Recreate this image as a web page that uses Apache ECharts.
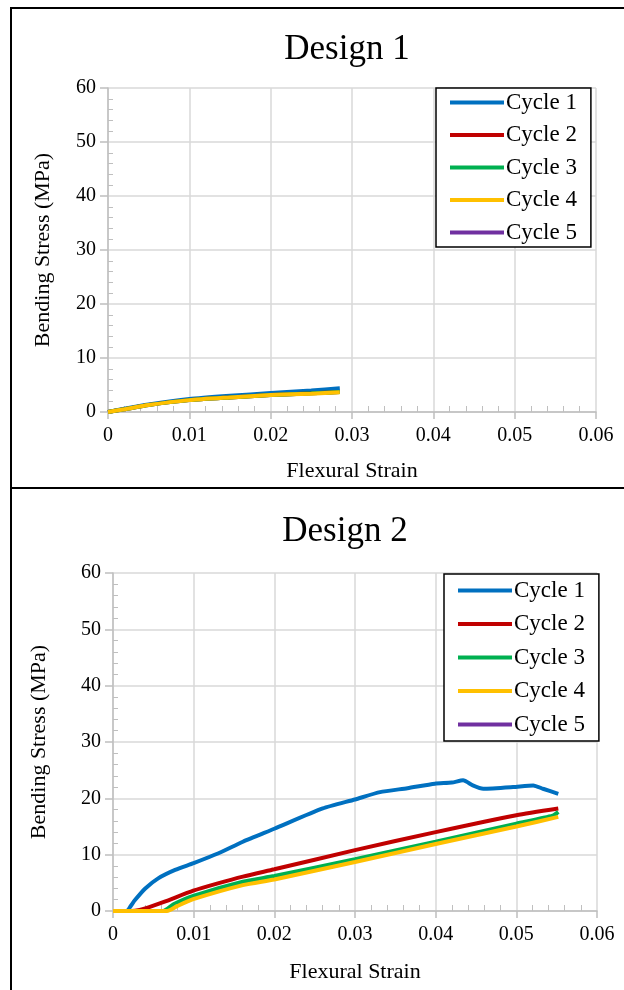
<!DOCTYPE html>
<html>
<head>
<meta charset="utf-8">
<script src="https://cdn.jsdelivr.net/npm/echarts@6/dist/echarts.min.js"></script>
<style>
  html, body { margin: 0; padding: 0; background: #fff; }
  #chart { width: 624px; height: 990px; }
</style>
</head>
<body>
<div id="chart"></div>
<script>
// cycles and colours
const cycleNames = ['Cycle 1', 'Cycle 2', 'Cycle 3', 'Cycle 4', 'Cycle 5']
const cycleColors = ['#0070C0', '#C00000', '#00B050', '#FFC000', '#7030A0']

// Design 1 : [strain, stress MPa]
const d1Cycle1 = [[0, 0], [0.002, 0.6], [0.005, 1.4], [0.01, 2.4], [0.015, 3.0], [0.02, 3.5], [0.025, 4.0], [0.0285, 4.4]]
const d1Cycle2 = [[0, 0], [0.002, 0.5], [0.005, 1.3], [0.01, 2.2], [0.015, 2.7], [0.02, 3.15], [0.025, 3.45], [0.0285, 3.7]]
const d1Cycle3 = [[0, 0], [0.002, 0.5], [0.005, 1.3], [0.01, 2.2], [0.015, 2.7], [0.02, 3.15], [0.025, 3.45], [0.0285, 3.7]]
const d1Cycle4 = [[0, 0], [0.002, 0.5], [0.005, 1.3], [0.01, 2.2], [0.015, 2.7], [0.02, 3.15], [0.025, 3.4], [0.0285, 3.65]]
const d1Cycle5 = []

// Design 2 : [strain, stress MPa]
const d2Cycle1 = [[0, 0], [0.0017, 0], [0.0022, 0.9], [0.0027, 1.9], [0.004, 4.0], [0.0056, 5.8], [0.0077, 7.3],
  [0.01, 8.5], [0.013, 10.2], [0.0161, 12.3], [0.02, 14.6], [0.026, 18.2], [0.03, 19.8], [0.0331, 21.1],
  [0.0365, 21.8], [0.0399, 22.6], [0.042, 22.8], [0.0434, 23.2], [0.0446, 22.3], [0.0459, 21.7], [0.0496, 22.0],
  [0.0521, 22.3], [0.0533, 21.7], [0.0552, 20.8]]
const d2Cycle2 = [[0, 0], [0.0023, 0], [0.0033, 0.2], [0.0044, 0.65], [0.0064, 1.65], [0.00995, 3.6], [0.013, 4.9],
  [0.0161, 6.1], [0.02, 7.4], [0.03, 10.8], [0.04, 14.0], [0.05, 17.0], [0.0552, 18.2]]
const d2Cycle3 = [[0, 0], [0.0062, 0], [0.0075, 1.2], [0.00995, 2.7], [0.0161, 5.2], [0.02, 6.2], [0.03, 9.2],
  [0.04, 12.3], [0.05, 15.5], [0.0545, 16.9], [0.0552, 17.6]]
const d2Cycle4 = [[0, 0], [0.0067, 0], [0.008, 0.9], [0.00995, 2.1], [0.0161, 4.6], [0.02, 5.6], [0.03, 8.7],
  [0.04, 11.9], [0.05, 15.0], [0.0552, 16.7]]
const d2Cycle5 = []

const d1Series = [d1Cycle1, d1Cycle2, d1Cycle3, d1Cycle4, d1Cycle5]
const d2Series = [d2Cycle1, d2Cycle2, d2Cycle3, d2Cycle4, d2Cycle5]

const font = 'Liberation Serif, Times New Roman, serif'
const gridColor = '#d9d9d9'
const axisColor = '#bfbfbf'

const chart = echarts.init(document.getElementById('chart'))

function xAxisFor(gridIndex, nameGap) {
  return {
    gridIndex: gridIndex,
    type: 'value',
    min: 0, max: 0.06, interval: 0.01,
    name: 'Flexural Strain',
    nameLocation: 'middle',
    nameGap: nameGap,
    nameTextStyle: { fontFamily: font, fontSize: 22, color: '#000' },
    axisLine: { show: true, onZero: false, lineStyle: { color: axisColor, width: 1.5 } },
    axisTick: { show: true, length: 7, lineStyle: { color: axisColor, width: 1.5 } },
    minorTick: { show: true, splitNumber: 5, length: -6, lineStyle: { color: axisColor, width: 1 } },
    axisLabel: { fontFamily: font, fontSize: 20, color: '#000', margin: 14,
      formatter: v => (v === 0 ? '0' : String(+v.toFixed(2))) },
    splitLine: { show: true, lineStyle: { color: gridColor, width: 1.5 } }
  }
}

function yAxisFor(gridIndex, nameGap) {
  return {
    gridIndex: gridIndex,
    type: 'value',
    min: 0, max: 60, interval: 10,
    name: 'Bending Stress (MPa)',
    nameLocation: 'middle',
    nameGap: nameGap,
    nameTextStyle: { fontFamily: font, fontSize: 22, color: '#000' },
    axisLine: { show: true, lineStyle: { color: axisColor, width: 1.5 } },
    axisTick: { show: true, length: 8, lineStyle: { color: axisColor, width: 1.5 } },
    minorTick: { show: true, splitNumber: 5, length: -5, lineStyle: { color: axisColor, width: 1 } },
    axisLabel: { fontFamily: font, fontSize: 20, color: '#000', margin: 12 },
    splitLine: { show: true, lineStyle: { color: gridColor, width: 1.5 } }
  }
}

function legendFor(left, top, gap, padV) {
  return {
    data: cycleNames,
    orient: 'vertical',
    left: left, top: top,
    icon: 'rect',
    itemWidth: 54, itemHeight: 4,
    itemGap: gap,
    padding: [padV, 14, padV, 14],
    backgroundColor: '#fff',
    borderColor: '#000',
    borderWidth: 1.5,
    selectedMode: false,
    textStyle: { fontFamily: font, fontSize: 23, color: '#000', padding: [0, 0, 0, -3] }
  }
}

const series = []
cycleNames.forEach((name, i) => {
  series.push({
    name: name, type: 'line', xAxisIndex: 0, yAxisIndex: 0,
    data: d1Series[i], showSymbol: false, smooth: 0.2,
    lineStyle: { color: cycleColors[i], width: 4 }, itemStyle: { color: cycleColors[i] }
  })
})
cycleNames.forEach((name, i) => {
  series.push({
    name: name, type: 'line', xAxisIndex: 1, yAxisIndex: 1,
    data: d2Series[i], showSymbol: false, smooth: 0.2,
    lineStyle: { color: cycleColors[i], width: 4 }, itemStyle: { color: cycleColors[i] }
  })
})

const option = {
  animation: false,
  backgroundColor: '#fff',
  title: [
    { text: 'Design 1', left: 342, top: 27, textAlign: 'center',
      textStyle: { fontFamily: font, fontSize: 35, fontWeight: 'normal', color: '#000' } },
    { text: 'Design 2', left: 340, top: 509, textAlign: 'center',
      textStyle: { fontFamily: font, fontSize: 35, fontWeight: 'normal', color: '#000' } }
  ],
  grid: [
    { left: 108, top: 88, width: 488, height: 324 },
    { left: 113, top: 573, width: 484, height: 338 }
  ],
  xAxis: [xAxisFor(0, 48), xAxisFor(1, 50)],
  yAxis: [yAxisFor(0, 54), yAxisFor(1, 63)],
  legend: [legendFor(436, 88, 9.5, 3), legendFor(444, 574, 10.5, 5)],
  graphic: [
    { type: 'rect', z: 100, shape: { x: 11, y: 8, width: 640, height: 480 },
      style: { fill: 'none', stroke: '#000', lineWidth: 2 } },
    { type: 'rect', z: 100, shape: { x: 11, y: 488, width: 640, height: 540 },
      style: { fill: 'none', stroke: '#000', lineWidth: 2 } }
  ],
  series: series
}

chart.setOption(option)
</script>
</body>
</html>
